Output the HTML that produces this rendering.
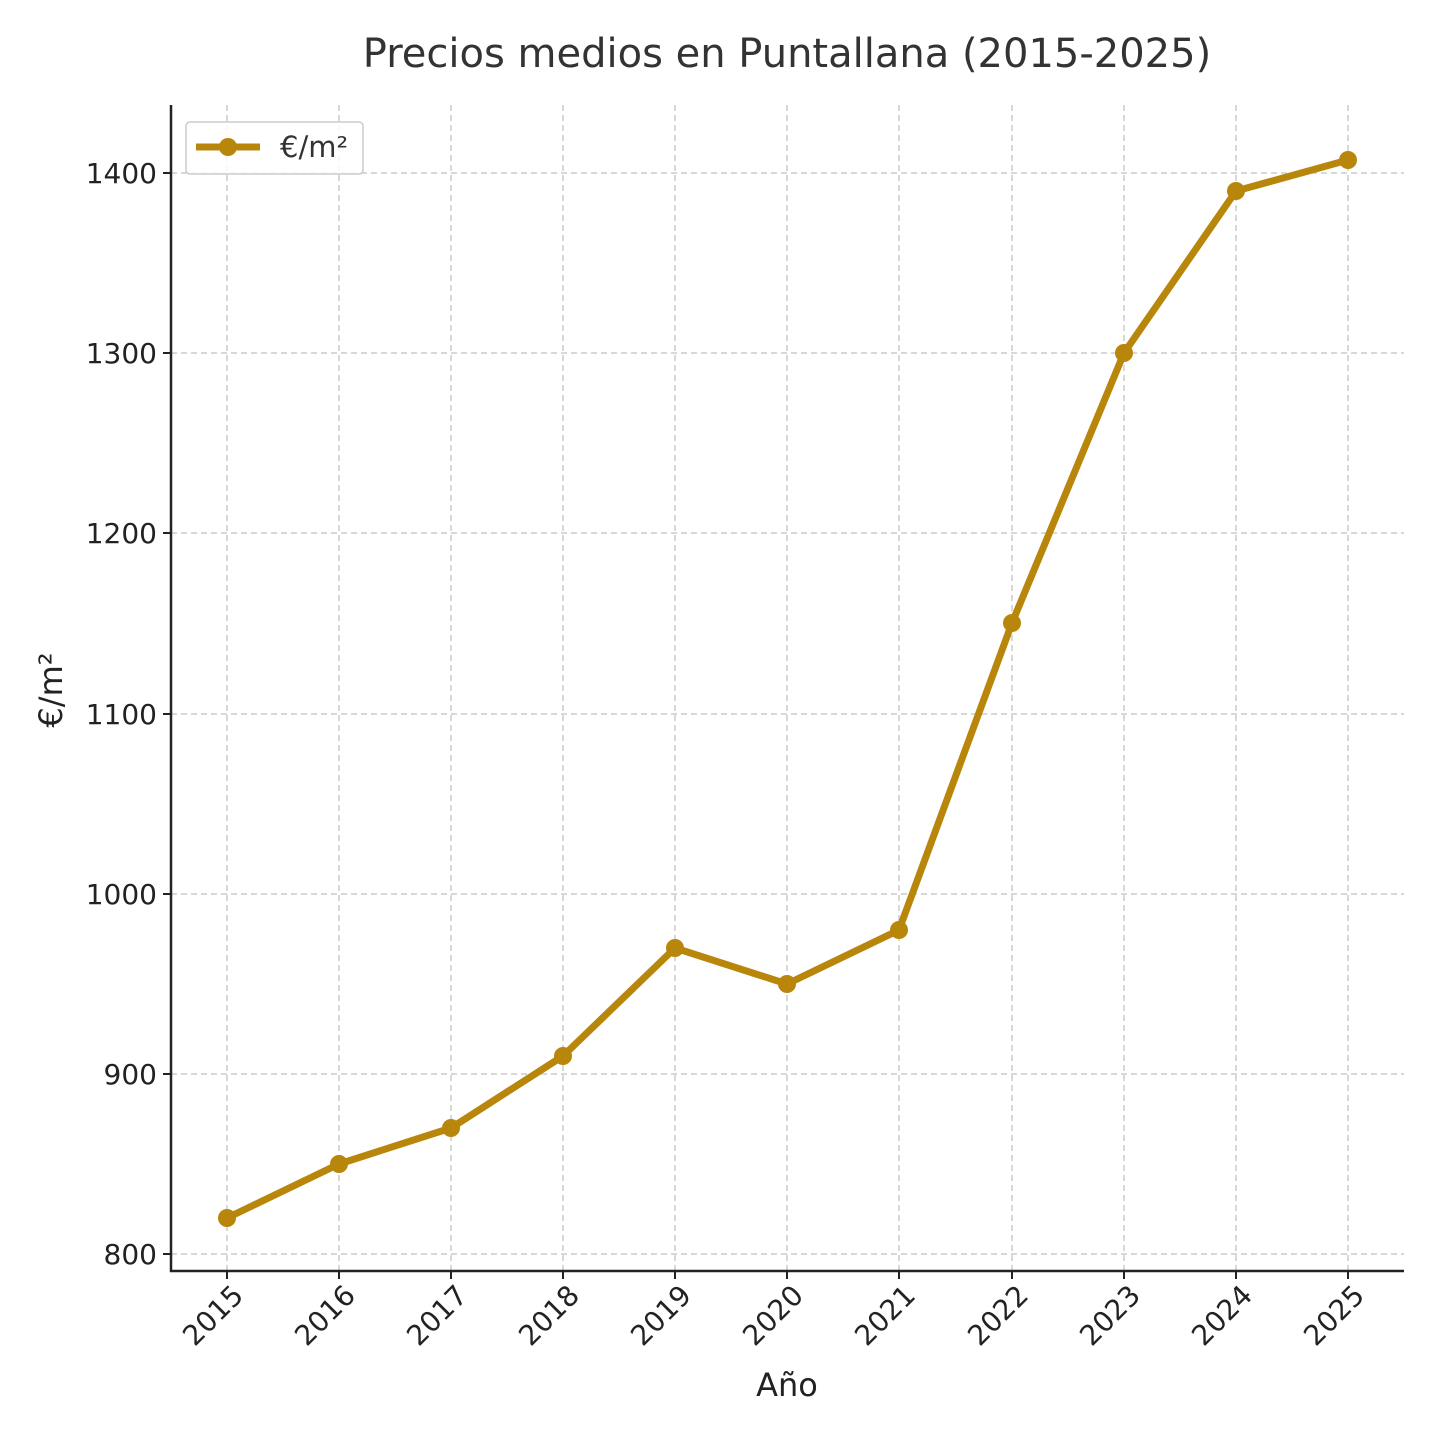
<!DOCTYPE html>
<html><head><meta charset="utf-8"><style>html,body{margin:0;padding:0;background:#fff}svg{display:block}</style></head>
<body>
<svg width="1440" height="1440" viewBox="0 0 1440 1440" xmlns="http://www.w3.org/2000/svg" font-family="'DejaVu Sans','Liberation Sans',sans-serif">
<rect width="1440" height="1440" fill="#fff"/>
<text x="787" y="67" text-anchor="middle" font-size="40" fill="#333">Precios medios en Puntallana (2015-2025)</text>
<g stroke="#ccc" stroke-width="1.5" stroke-dasharray="6,4">
<line x1="227" y1="105" x2="227" y2="1271"/><line x1="339" y1="105" x2="339" y2="1271"/><line x1="451" y1="105" x2="451" y2="1271"/><line x1="563" y1="105" x2="563" y2="1271"/><line x1="675" y1="105" x2="675" y2="1271"/><line x1="787" y1="105" x2="787" y2="1271"/><line x1="899" y1="105" x2="899" y2="1271"/><line x1="1012" y1="105" x2="1012" y2="1271"/><line x1="1124" y1="105" x2="1124" y2="1271"/><line x1="1236" y1="105" x2="1236" y2="1271"/><line x1="1348" y1="105" x2="1348" y2="1271"/>
<line x1="171" y1="1254" x2="1404" y2="1254"/><line x1="171" y1="1074" x2="1404" y2="1074"/><line x1="171" y1="894" x2="1404" y2="894"/><line x1="171" y1="714" x2="1404" y2="714"/><line x1="171" y1="533" x2="1404" y2="533"/><line x1="171" y1="353" x2="1404" y2="353"/><line x1="171" y1="173" x2="1404" y2="173"/>
</g>
<g stroke="#222" stroke-width="2.5"><line x1="171" y1="105" x2="171" y2="1272"/><line x1="170" y1="1271" x2="1404" y2="1271"/></g>
<g stroke="#222" stroke-width="2">
<line x1="163" y1="1254" x2="171" y2="1254"/><line x1="163" y1="1074" x2="171" y2="1074"/><line x1="163" y1="894" x2="171" y2="894"/><line x1="163" y1="714" x2="171" y2="714"/><line x1="163" y1="533" x2="171" y2="533"/><line x1="163" y1="353" x2="171" y2="353"/><line x1="163" y1="173" x2="171" y2="173"/>
</g>
<g font-size="28" fill="#222" text-anchor="end">
<text x="157" y="1264">800</text><text x="157" y="1084">900</text><text x="157" y="904">1000</text><text x="157" y="724">1100</text><text x="157" y="543">1200</text><text x="157" y="363">1300</text><text x="157" y="183">1400</text>
</g>
<g stroke="#222" stroke-width="2">
<line x1="227" y1="1271" x2="227" y2="1279"/><line x1="339" y1="1271" x2="339" y2="1279"/><line x1="451" y1="1271" x2="451" y2="1279"/><line x1="563" y1="1271" x2="563" y2="1279"/><line x1="675" y1="1271" x2="675" y2="1279"/><line x1="787" y1="1271" x2="787" y2="1279"/><line x1="899" y1="1271" x2="899" y2="1279"/><line x1="1012" y1="1271" x2="1012" y2="1279"/><line x1="1124" y1="1271" x2="1124" y2="1279"/><line x1="1236" y1="1271" x2="1236" y2="1279"/><line x1="1348" y1="1271" x2="1348" y2="1279"/>
</g>
<g font-size="28" fill="#222" text-anchor="end">
<text transform="translate(245,1297) rotate(-45)">2015</text><text transform="translate(357,1297) rotate(-45)">2016</text><text transform="translate(469,1297) rotate(-45)">2017</text><text transform="translate(581,1297) rotate(-45)">2018</text><text transform="translate(693,1297) rotate(-45)">2019</text><text transform="translate(805,1297) rotate(-45)">2020</text><text transform="translate(917,1297) rotate(-45)">2021</text><text transform="translate(1030,1297) rotate(-45)">2022</text><text transform="translate(1142,1297) rotate(-45)">2023</text><text transform="translate(1254,1297) rotate(-45)">2024</text><text transform="translate(1366,1297) rotate(-45)">2025</text>
</g>
<text x="787" y="1396" text-anchor="middle" font-size="32" fill="#222">Año</text>
<text transform="translate(62,690) rotate(-90)" text-anchor="middle" font-size="32" fill="#222">€/m²</text>
<polyline fill="none" stroke="#B8860B" stroke-width="7" stroke-linejoin="round" points="227,1218 339,1164 451,1128 563,1056 675,948 787,984 899,930 1012,623 1124,353 1236,191 1348,160"/>
<g fill="#B8860B">
<circle cx="227" cy="1218" r="9"/><circle cx="339" cy="1164" r="9"/><circle cx="451" cy="1128" r="9"/><circle cx="563" cy="1056" r="9"/><circle cx="675" cy="948" r="9"/><circle cx="787" cy="984" r="9"/><circle cx="899" cy="930" r="9"/><circle cx="1012" cy="623" r="9"/><circle cx="1124" cy="353" r="9"/><circle cx="1236" cy="191" r="9"/><circle cx="1348" cy="160" r="9"/>
</g>
<rect x="186" y="122" width="177" height="52" rx="4" fill="#fff" fill-opacity="0.8" stroke="#ccc" stroke-width="1.5"/>
<line x1="196" y1="147" x2="260" y2="147" stroke="#B8860B" stroke-width="7"/>
<circle cx="228" cy="147" r="9" fill="#B8860B"/>
<text x="280" y="157" font-size="29" fill="#333">€/m²</text>
</svg>
</body></html>
